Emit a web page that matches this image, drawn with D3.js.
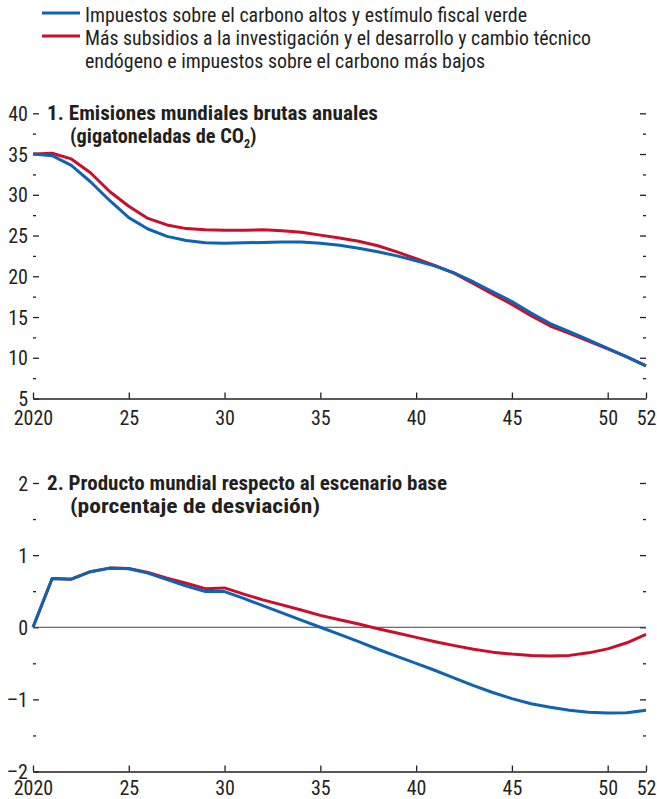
<!DOCTYPE html>
<html><head><meta charset="utf-8">
<script src="https://cdn.jsdelivr.net/npm/d3@7"></script>
<style>
body{margin:0;background:#fff;}
svg text{font-family:"Liberation Sans Narrow","Arial Narrow","Roboto Condensed",sans-serif;fill:#231f20;}
</style></head>
<body><svg id="c" width="657" height="799"></svg>
<script>
const years = d3.range(2020, 2053);
const emisBlue = [35.0,34.8,33.6,31.6,29.3,27.2,25.8,24.9,24.4,24.1,24.05,24.1,24.15,24.2,24.2,24.05,23.8,23.45,23.0,22.5,21.9,21.25,20.4,19.3,18.1,16.9,15.5,14.2,13.2,12.2,11.15,10.1,9.0];
const emisRed  = [35.0,35.1,34.4,32.7,30.4,28.6,27.1,26.3,25.85,25.7,25.65,25.65,25.7,25.6,25.4,25.05,24.7,24.3,23.75,23.0,22.15,21.3,20.35,19.1,17.8,16.55,15.15,13.9,13.0,12.05,11.1,10.1,9.0];
const prodBlue = [0,0.675,0.667,0.77,0.82,0.81,0.75,0.66,0.57,0.495,0.495,0.40,0.30,0.20,0.10,0.0,-0.1,-0.2,-0.305,-0.405,-0.5,-0.6,-0.705,-0.81,-0.905,-0.99,-1.06,-1.11,-1.15,-1.18,-1.19,-1.185,-1.15];
const prodRed  = [0,0.675,0.667,0.77,0.82,0.815,0.76,0.68,0.61,0.535,0.545,0.46,0.38,0.31,0.24,0.165,0.105,0.045,-0.02,-0.08,-0.14,-0.2,-0.255,-0.305,-0.345,-0.372,-0.39,-0.40,-0.39,-0.355,-0.30,-0.215,-0.10];
const xTicks = [2020,2025,2030,2035,2040,2045,2050,2052];
const xTickLabels = ["2020","25","30","35","40","45","50","52"];
const y1Ticks = [5,10,15,20,25,30,35,40];
const y1Labels = ["5","10","15","20","25","30","35","40"];
const y2Ticks = [-2,-1,0,1,2];
const y2Labels = ["\u20132","\u20131","0","1","2"];
const legendLabels = [["Impuestos sobre el carbono altos y estímulo fiscal verde"],
  ["Más subsidios a la investigación y el desarrollo y cambio técnico","endógeno e impuestos sobre el carbono más bajos"]];
const colors = ["#0f63b3","#c8102e"];

const svg = d3.select("#c");
const FS = 20;
const x = d3.scaleLinear().domain([2020,2052]).range([33,646]);

// legend
const lg = svg.append("g");
[13,36].forEach((ly,i)=>{
  lg.append("line").attr("x1",42).attr("x2",80).attr("y1",ly).attr("y2",ly)
    .attr("stroke",colors[i]).attr("stroke-width",3);
});
const lBase = [[21.5],[45,68]];
const lLen = [[442],[506,400]];
legendLabels.forEach((lines,i)=>lines.forEach((t,j)=>{
  lg.append("text").attr("x",85).attr("y",lBase[i][j]).attr("font-size",FS)
    .attr("textLength",lLen[i][j]).attr("lengthAdjust","spacingAndGlyphs").text(t);
}));

function panel(yr, ticks, labels, minors, rightMajors, series, title1, title2, tY, zero, pad, lens){
  const y = d3.scaleLinear().domain(yr.domain).range(yr.range);
  const g = svg.append("g");
  const la = g.append("g").attr("transform",`translate(${x(2020)},0)`)
    .call(d3.axisLeft(y).tickValues(ticks).tickFormat((d,i)=>labels[i]).tickSizeInner(-6).tickSizeOuter(0).tickPadding(5));
  la.select(".domain").remove();
  la.selectAll("text").attr("font-size",FS).attr("font-family",null).attr("dy","0.36em");
  const lm = g.append("g").attr("transform",`translate(${x(2020)},0)`)
    .call(d3.axisLeft(y).tickValues(minors).tickFormat("").tickSizeInner(-3).tickSizeOuter(0));
  lm.select(".domain").remove();
  const ra = g.append("g").attr("transform",`translate(${x(2052)},0)`)
    .call(d3.axisRight(y).tickValues(rightMajors).tickFormat("").tickSizeInner(-6).tickSizeOuter(0));
  ra.select(".domain").remove();
  const rm = g.append("g").attr("transform",`translate(${x(2052)},0)`)
    .call(d3.axisRight(y).tickValues(minors).tickFormat("").tickSizeInner(-3).tickSizeOuter(0));
  rm.select(".domain").remove();
  g.selectAll(".tick line").attr("stroke","#231f20").attr("stroke-width",1.3);
  const ba = g.append("g").attr("transform",`translate(0,${yr.range[0]})`)
    .call(d3.axisBottom(x).tickValues(xTicks).tickFormat((d,i)=>xTickLabels[i]).tickSizeInner(-6).tickSizeOuter(0).tickPadding(pad));
  ba.select(".domain").attr("stroke","#231f20").attr("stroke-width",1.3);
  ba.selectAll(".tick line").attr("stroke","#231f20").attr("stroke-width",1.3);
  ba.selectAll("text").attr("font-size",FS).attr("font-family",null);
  if(zero){
    g.append("line").attr("x1",x(2020)).attr("x2",x(2052)).attr("y1",y(0)).attr("y2",y(0))
      .attr("stroke","#444").attr("stroke-width",1);
  }
  const line = d3.line().x((d,i)=>x(years[i])).y(d=>y(d));
  [1,0].forEach(k=>{
    g.append("path").datum(series[k]).attr("d",line).attr("fill","none")
      .attr("stroke",colors[k]).attr("stroke-width",3).attr("stroke-linejoin","round");
  });
  g.append("text").attr("x",47).attr("y",tY).attr("font-size",FS).attr("font-weight","bold")
    .attr("textLength",lens[0]).attr("lengthAdjust","spacingAndGlyphs").text(title1);
  const t2 = g.append("text").attr("x",70).attr("y",tY+23).attr("font-size",FS).attr("font-weight","bold");
  title2(t2, lens[1]);
}

panel({domain:[5,40],range:[398.5,113.3]}, y1Ticks, y1Labels,
  d3.range(7.5,40,5), [10,15,20,25,30,35,40], [emisBlue,emisRed],
  "1. Emisiones mundiales brutas anuales",
  (t,L)=>{ t.append("tspan").attr("textLength",L-14).attr("lengthAdjust","spacingAndGlyphs").text("(gigatoneladas de CO");
       t.append("tspan").attr("font-size",12).attr("dy",5).text("2");
       t.append("tspan").attr("dy",-5).text(")"); },
  120, false, 12, [331,188]);

panel({domain:[-2,2],range:[771.5,483]}, y2Ticks, y2Labels,
  [-1.5,-0.5,0.5,1.5], [-1,0,1,2], [prodBlue,prodRed],
  "2. Producto mundial respecto al escenario base",
  (t,L)=>{ t.attr("textLength",L).attr("lengthAdjust","spacingAndGlyphs").text("(porcentaje de desviación)"); },
  490, true, 9, [400,250]);
</script></body></html>
